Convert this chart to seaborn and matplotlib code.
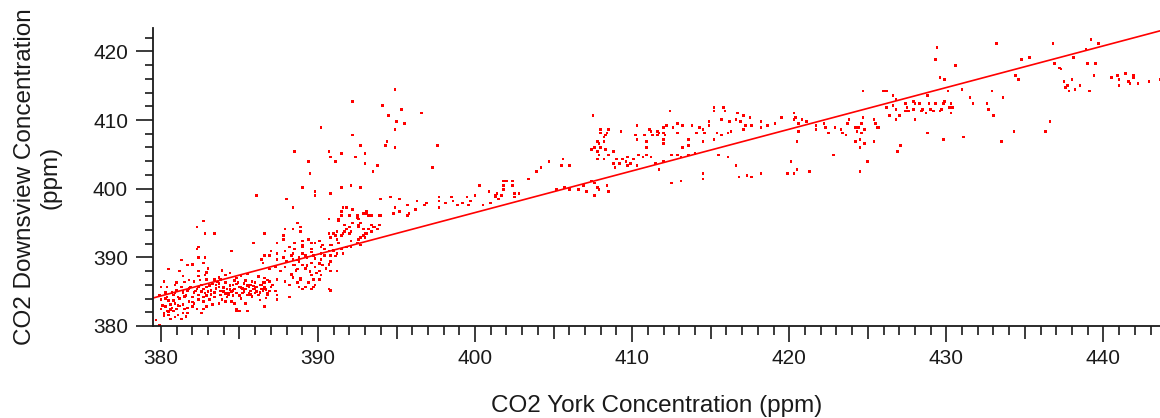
import numpy as np
import pandas as pd
import matplotlib
matplotlib.use("Agg")
import matplotlib.pyplot as plt
from matplotlib.ticker import MultipleLocator, FuncFormatter
import seaborn as sns

# Paired hourly CO2 readings (ppm), York station vs. Downsview station,
# grouped by York concentration range.
york_380s = [
    386.1, 382.4, 382.3, 382.4, 382.8, 382.7, 381.7, 384.5, 385.9, 386.9,
    386.4, 382.9, 382.4, 381.0, 381.5, 380.0, 380.3, 379.9, 380.4, 380.0,
    380.8, 381.0, 381.3, 381.4, 381.7, 381.9, 382.2, 382.4, 382.7, 382.9,
    382.8, 383.2, 383.3, 383.6, 383.7, 383.8, 384.1, 384.2, 384.3, 384.6,
    384.7, 384.8, 385.0, 385.4, 385.6, 385.9, 386.1, 386.4, 386.6, 386.9,
    386.5, 385.7, 385.2, 385.5, 386.0, 386.2, 386.8, 384.2, 383.8, 383.4,
    383.1, 382.7, 382.4, 382.0, 381.8, 381.4, 381.5, 382.0, 382.3, 382.7,
    382.9, 383.3, 383.7, 384.1, 384.5, 384.7, 384.8, 385.0, 385.5, 385.4,
    380.9, 380.6, 380.3, 380.0, 380.4, 380.8, 380.5, 380.9, 381.1, 381.3,
    380.6, 379.9, 381.4, 381.0, 385.7, 386.0, 386.3, 386.6, 386.8, 386.6,
    384.8, 385.1, 383.7, 383.4, 382.9, 382.5, 382.1, 381.8, 381.4, 380.9,
    380.4, 384.1, 382.8, 382.4, 386.6, 387.9, 387.8, 387.8, 387.4, 387.9,
    387.0, 386.6, 387.4, 387.4, 387.8, 386.5, 386.9, 387.3, 387.6, 387.9,
    387.9, 387.4, 387.1, 386.9, 386.5, 386.6, 387.0, 387.3, 386.8, 387.4,
    387.4, 386.6, 382.3, 382.7, 382.8, 383.4, 379.7, 384.8, 382.6, 383.0,
    383.5, 384.0, 384.4, 385.3, 385.8, 386.3, 386.7, 385.1, 384.6, 383.9,
    383.2, 382.6, 382.1, 381.6, 381.2, 380.7, 380.5, 381.1, 381.7, 380.2,
    381.6, 380.7, 386.2, 385.5, 384.4, 383.9, 383.0, 381.2, 382.0, 381.3,
    380.5, 380.2,
    380.1, 380.3, 380.6, 380.9, 381.2, 381.5, 381.8, 382.1, 382.4, 382.7,
    380.2, 380.5, 380.8, 381.1, 381.4, 381.7, 382.0, 382.3, 382.6, 382.9,
    383.1, 383.4, 383.7, 384.0, 384.3, 384.6, 384.9, 385.2, 385.5, 385.8,
    383.2, 383.5, 383.8, 384.1, 384.4, 384.7, 385.0, 385.3, 385.6, 385.9,
    386.1, 386.4, 386.7, 386.3, 386.0, 385.7, 385.4, 385.1, 384.8, 384.5,
]
downsview_380s = [
    399.0, 391.5, 391.2, 390.0, 390.0, 389.2, 388.9, 390.9, 392.1, 390.3,
    389.7, 387.8, 387.3, 386.3, 386.4, 385.7, 384.9, 384.5, 384.2, 383.9,
    384.5, 385.2, 385.7, 384.8, 385.2, 385.7, 385.1, 385.7, 385.4, 385.7,
    384.8, 385.2, 386.1, 386.4, 385.7, 386.8, 386.3, 385.4, 384.8, 386.0,
    385.4, 384.8, 385.7, 385.4, 385.7, 385.4, 385.7, 385.4, 385.7, 385.1,
    385.1, 385.1, 384.8, 384.5, 384.8, 384.5, 384.5, 384.2, 384.5, 384.2,
    383.9, 383.6, 384.5, 384.2, 383.6, 383.1, 382.5, 382.8, 382.5, 382.5,
    382.8, 383.1, 383.3, 383.6, 383.6, 383.3, 382.5, 382.2, 382.2, 383.3,
    383.3, 383.1, 382.8, 382.5, 382.2, 382.2, 381.6, 381.3, 381.6, 381.0,
    381.0, 380.1, 381.9, 382.5, 386.0, 386.3, 386.0, 386.3, 386.7, 387.0,
    387.0, 387.3, 387.1, 386.8, 386.8, 386.7, 386.5, 386.7, 387.3, 386.0,
    385.7, 387.4, 387.4, 388.0, 393.5, 394.1, 393.2, 392.6, 392.1, 390.9,
    390.9, 390.3, 390.6, 389.7, 390.0, 389.2, 388.3, 388.6, 388.0, 388.6,
    386.5, 386.8, 386.0, 386.5, 386.3, 385.4, 385.7, 385.1, 384.8, 384.5,
    383.9, 382.8, 394.4, 395.3, 393.5, 393.5, 380.9, 382.3, 381.9, 385.0,
    385.5, 385.0, 385.9, 386.2, 384.3, 384.9, 384.1, 384.0, 384.4, 383.9,
    384.6, 385.0, 384.9, 384.4, 384.0, 384.9, 383.7, 383.0, 382.6, 381.5,
    381.4, 382.6, 387.2, 387.6, 387.7, 388.1, 388.4, 388.0, 389.0, 389.6,
    388.3, 386.5,
    383.0, 384.0, 382.4, 384.8, 382.9, 384.3, 385.5, 383.3, 383.9, 384.2,
    381.8, 382.1, 383.7, 384.2, 385.0, 381.9, 383.5, 385.4, 386.0, 384.4,
    385.9, 384.9, 386.2, 385.6, 384.5, 385.2, 386.3, 385.5, 385.9, 386.5,
    384.6, 386.0, 385.1, 384.7, 385.3, 386.6, 384.4, 385.0, 384.8, 385.8,
    385.0, 386.0, 385.3, 383.8, 385.5, 384.6, 386.6, 385.6, 386.1, 385.0,
]

york_388_395 = [
    388.5, 389.4, 389.5, 389.0, 388.0, 388.4, 394.9, 392.2, 394.1, 394.5,
    390.2, 394.9, 392.2, 394.4, 394.3, 392.7, 394.9, 390.7, 391.5, 390.8,
    393.0, 392.4, 391.1, 393.0, 393.8, 393.5, 391.5, 392.1, 392.7, 389.8,
    389.8, 390.8, 394.0, 394.6, 394.9, 394.0, 394.8, 391.6, 391.8, 392.2,
    391.5, 392.0, 392.5, 392.9, 393.1, 393.2, 391.5, 390.7, 391.3, 391.7,
    391.8, 392.0, 392.9, 392.6, 393.5, 393.9, 393.4, 392.9, 392.7, 393.0,
    392.6, 392.5, 392.7, 392.1, 391.6, 391.2, 391.1, 390.7, 390.8, 391.2,
    391.3, 390.9, 390.3, 389.8, 389.4, 389.0, 388.7, 388.9, 388.9, 388.4,
    391.6, 390.8, 390.2, 390.3, 389.2, 388.8, 388.5, 392.1, 390.4, 389.6,
    393.4, 388.5, 389.6, 390.1, 389.0, 388.5, 388.2, 388.3, 388.0, 388.4,
    388.8, 389.0, 389.3, 389.7, 390.2, 390.7, 390.8, 391.2, 391.5, 391.8,
    393.0, 393.1, 393.2, 393.4, 393.6, 393.8, 393.9, 392.5, 392.6, 393.1,
    392.7, 392.6, 392.2, 392.0, 392.1, 391.7, 391.5, 391.0, 391.3, 388.4,
    388.7, 389.0, 389.6, 389.8, 390.1, 389.6, 389.7, 389.4, 389.8, 389.6,
    390.1, 390.2, 390.8, 391.2, 390.7, 388.9, 388.7, 388.4, 388.2, 388.2,
    388.8, 389.2, 389.0, 390.8, 389.7,
    388.3, 388.6, 388.9, 389.2, 389.5, 389.8, 390.1, 390.4, 390.7, 391.0,
    388.4, 388.7, 389.0, 389.3, 389.6, 389.9, 390.2, 390.5, 390.8, 391.1,
]
downsview_388_395 = [
    405.4, 404.0, 402.2, 400.2, 398.5, 397.3, 414.4, 412.7, 412.1, 410.7,
    408.9, 408.6, 407.8, 406.9, 406.3, 406.3, 406.0, 405.4, 405.1, 404.6,
    405.1, 404.6, 404.0, 403.7, 403.4, 402.5, 400.2, 400.5, 400.2, 399.6,
    399.0, 399.3, 398.5, 398.8, 397.3, 396.1, 396.4, 397.3, 397.3, 397.0,
    396.7, 396.1, 395.8, 396.4, 396.7, 396.1, 396.1, 395.6, 395.3, 394.7,
    394.1, 393.5, 394.1, 394.7, 394.4, 394.7, 393.8, 393.2, 392.9, 393.5,
    392.6, 392.1, 391.8, 392.4, 393.5, 393.8, 393.2, 393.5, 392.9, 392.6,
    392.1, 391.8, 391.8, 392.1, 392.6, 392.4, 395.0, 394.4, 393.8, 394.1,
    390.6, 389.4, 389.7, 388.9, 390.3, 389.4, 388.9, 391.5, 391.2, 391.2,
    396.1, 392.1, 392.1, 392.4, 391.8, 391.2, 391.5, 390.3, 389.4, 389.7,
    390.0, 390.6, 390.0, 390.3, 390.6, 390.9, 390.3, 390.6, 391.2, 391.5,
    392.9, 393.5, 394.1, 394.7, 394.4, 394.1, 396.1, 396.1, 395.6, 396.4,
    395.0, 394.4, 395.0, 394.4, 393.8, 393.8, 393.2, 393.5, 395.6, 388.9,
    388.3, 388.9, 389.2, 388.6, 388.0, 387.4, 386.8, 386.3, 386.0, 385.4,
    386.8, 387.4, 388.0, 388.0, 385.4, 386.8, 386.3, 387.1, 386.0, 384.2,
    385.7, 385.7, 385.4, 385.2, 385.7,
    387.5, 388.1, 387.0, 388.4, 387.9, 389.8, 389.1, 390.3, 389.0, 391.0,
    390.6, 389.6, 391.5, 388.8, 390.8, 387.7, 391.5, 388.4, 391.8, 390.2,
]

york_395_410 = [
    395.3, 396.6, 395.0, 395.5, 397.6, 397.3, 400.3, 396.3, 397.7, 397.7,
    398.1, 398.5, 398.6, 398.9, 399.2, 399.5, 399.7, 400.0, 400.5, 400.9,
    395.7, 396.2, 396.8, 395.2, 395.2, 395.7, 401.4, 401.3, 401.5, 401.0,
    396.9, 397.7, 399.6, 395.8, 404.7, 405.6, 405.5, 406.0, 404.2, 403.9,
    403.4, 401.8, 402.0, 402.4, 401.8, 402.4, 401.8, 401.3, 401.7, 402.5,
    402.8, 402.5, 405.7, 406.0, 406.6, 406.9, 407.1, 407.6, 407.8, 407.9,
    408.4, 408.5, 407.6, 407.4, 405.2, 407.5, 408.0, 408.0, 408.3, 408.5,
    408.4, 408.2, 408.2, 407.8, 407.9, 407.6, 408.0, 408.3, 407.8, 407.4,
    408.8, 408.5, 408.2, 407.8, 407.9, 409.0, 408.8, 409.2, 409.4, 409.6,
    409.7, 409.7, 408.9, 409.3, 409.9,
]
downsview_395_410 = [
    411.5, 411.0, 409.8, 409.5, 406.3, 403.1, 400.5, 398.2, 398.8, 398.2,
    397.9, 398.8, 398.2, 397.6, 397.9, 398.8, 398.2, 399.0, 397.6, 399.6,
    397.6, 397.0, 397.6, 398.5, 396.7, 396.1, 399.3, 398.8, 398.5, 397.9,
    397.9, 397.3, 397.6, 396.4, 404.0, 404.3, 403.4, 403.4, 403.1, 402.5,
    401.4, 401.1, 401.1, 401.1, 400.5, 400.5, 399.9, 399.0, 399.0, 399.3,
    399.3, 398.8, 400.2, 399.9, 399.9, 400.5, 399.6, 400.8, 400.2, 399.9,
    400.5, 399.6, 399.0, 401.1, 399.9, 410.7, 408.6, 408.1, 407.8, 408.6,
    408.1, 407.5, 406.9, 406.9, 406.6, 406.0, 406.0, 405.7, 405.4, 405.7,
    405.4, 404.9, 404.3, 404.3, 404.9, 404.3, 403.7, 403.7, 404.3, 404.0,
    404.6, 403.4, 403.1, 408.3, 403.7,
]

york_410_420 = [
    412.4, 415.2, 415.2, 415.8, 415.9, 416.7, 417.1, 417.5, 415.7, 416.2,
    416.6, 416.9, 417.2, 417.6, 418.2, 418.6, 419.1, 414.9, 414.9, 414.3,
    414.5, 413.8, 413.2, 412.9, 412.2, 412.0, 410.3, 411.1, 411.2, 411.6,
    411.7, 412.0, 411.6, 412.6, 412.9, 414.1, 414.6, 415.4, 415.7, 416.1,
    416.3, 417.1, 415.2, 414.5, 413.6, 413.6, 413.2, 412.0, 412.0, 412.1,
    411.3, 410.8, 410.9, 410.9, 410.2, 410.3, 410.1, 410.4, 410.7, 410.9,
    411.2, 411.5, 412.0, 412.5, 412.9, 413.1, 413.6, 414.0, 410.3, 411.7,
    415.5, 416.1, 416.6, 414.5, 414.5, 413.1, 412.5, 416.8, 417.3, 417.6,
    418.2, 419.5, 418.2, 419.9,
]
downsview_410_420 = [
    411.3, 411.8, 411.3, 411.8, 411.3, 411.0, 410.7, 410.4, 410.1, 409.8,
    410.1, 409.8, 409.2, 409.2, 409.8, 409.2, 409.5, 409.8, 409.2, 408.9,
    408.6, 409.2, 409.2, 409.5, 409.2, 408.9, 409.2, 408.6, 408.3, 408.3,
    408.1, 408.1, 407.8, 408.9, 408.1, 408.1, 408.1, 408.1, 407.8, 408.1,
    408.3, 408.6, 407.2, 406.9, 407.2, 406.3, 406.0, 407.2, 406.6, 407.8,
    407.8, 407.8, 406.9, 406.0, 407.8, 407.2, 404.3, 404.9, 404.6, 404.9,
    404.6, 403.7, 404.0, 404.9, 404.9, 404.6, 404.9, 405.1, 403.4, 402.8,
    404.9, 404.6, 403.4, 402.2, 401.4, 401.1, 400.8, 401.7, 401.9, 401.7,
    402.2, 410.4, 408.9, 402.2,
]

york_420s_430s = [
    429.4, 429.3, 433.2, 436.8, 439.2, 439.7, 438.9, 430.6, 434.8, 435.3,
    436.9, 437.2, 437.3, 438.1, 439.0, 439.5, 439.4, 434.4, 434.6, 437.5,
    438.0, 437.7, 438.5, 437.6, 437.8, 438.2, 439.1, 440.5, 440.9, 441.0,
    441.0, 441.4, 441.9, 441.9, 441.7, 441.6, 442.2, 442.9, 443.6, 429.6,
    429.9, 430.1, 431.0, 431.5, 431.7, 432.9, 432.6, 432.7, 433.0, 433.6,
    433.5, 431.1, 434.3, 436.3, 436.6, 429.8, 428.8, 424.7, 426.0, 426.2,
    426.6, 426.8, 426.2, 426.6, 426.8, 426.4, 426.8, 427.0, 427.4, 427.5,
    427.6, 427.9, 428.0, 428.3, 428.5, 428.7, 428.9, 429.0, 429.2, 429.8,
    429.9, 430.2, 430.3, 428.8, 428.0, 427.4, 427.9, 428.4, 429.3, 429.6,
    429.7, 430.3, 430.4, 420.3, 420.4, 420.3, 420.8, 420.6, 421.1, 421.7,
    421.7, 422.2, 422.3, 422.5, 420.6, 420.5, 422.9, 423.3, 423.4, 423.7,
    423.8, 423.6, 424.2, 424.3, 424.4, 424.6, 424.7, 424.8, 424.6, 424.5,
    424.2, 424.8, 424.5, 425.4, 425.5, 425.6, 425.7, 425.4, 422.8, 420.1,
    420.5, 420.3, 421.3, 424.5, 425.0, 426.9, 427.1,
]
downsview_420s_430s = [
    420.6, 418.8, 421.1, 421.1, 421.7, 421.1, 420.3, 417.9, 418.8, 419.1,
    418.2, 417.6, 417.4, 419.1, 418.2, 418.2, 416.5, 416.5, 415.9, 415.6,
    415.9, 415.0, 415.0, 414.7, 414.2, 414.4, 414.2, 416.2, 416.5, 415.9,
    415.0, 416.8, 416.5, 416.2, 415.3, 415.6, 415.3, 415.6, 415.9, 416.2,
    415.9, 414.2, 414.4, 413.3, 412.4, 414.2, 412.4, 411.5, 410.7, 413.3,
    406.9, 407.5, 408.3, 408.3, 409.8, 407.2, 408.1, 414.2, 414.2, 414.2,
    413.6, 413.0, 411.8, 412.1, 411.5, 410.7, 410.1, 410.7, 412.4, 411.8,
    411.3, 412.7, 412.4, 412.4, 411.5, 411.0, 412.4, 411.5, 411.3, 412.4,
    412.7, 411.8, 411.0, 413.6, 410.1, 411.3, 411.5, 411.3, 412.4, 411.3,
    411.5, 412.4, 411.8, 411.0, 410.4, 410.1, 410.1, 409.5, 409.8, 409.2,
    408.6, 409.5, 408.9, 408.1, 408.3, 406.9, 408.9, 408.6, 408.1, 409.5,
    410.1, 407.8, 408.9, 408.3, 408.9, 409.5, 410.4, 408.6, 408.1, 407.2,
    406.9, 406.6, 406.0, 410.1, 409.5, 408.9, 408.9, 406.9, 404.9, 404.0,
    402.8, 402.2, 402.5, 402.5, 404.0, 405.4, 406.3,
]

# Linear least-squares fit: Downsview = intercept + slope * York
fit_slope = 0.607
fit_intercept = 153.72

x_range = (379.5, 443.6)
y_range = (380.0, 423.4)

df = pd.DataFrame({
    "york": np.concatenate([york_380s, york_388_395, york_395_410,
                            york_410_420, york_420s_430s]),
    "downsview": np.concatenate([downsview_380s, downsview_388_395,
                                 downsview_395_410, downsview_410_420,
                                 downsview_420s_430s]),
})
fit_x = np.array(x_range)
fit_df = pd.DataFrame({"york": fit_x, "downsview": fit_intercept + fit_slope * fit_x})

sns.set_theme(style="ticks")
plt.rcParams["font.family"] = ["Liberation Sans", "DejaVu Sans"]
ink = "#1a1a1a"

fig = plt.figure(figsize=(11.6, 4.18), dpi=100)
ax = fig.add_axes([153 / 1160, (418 - 326) / 418, (1160 - 153) / 1160, (326 - 28) / 418])

sns.scatterplot(data=df, x="york", y="downsview", ax=ax, marker="s", s=3.5,
                color="#ff0000", linewidth=0, edgecolor="none")
sns.lineplot(data=fit_df, x="york", y="downsview", ax=ax, color="#ff0000",
             linewidth=1.2)

ax.set_xlim(*x_range)
ax.set_ylim(*y_range)

for side in ("top", "right"):
    ax.spines[side].set_visible(False)
for side in ("left", "bottom"):
    ax.spines[side].set_color(ink)
    ax.spines[side].set_linewidth(1.3)

ax.xaxis.set_major_locator(MultipleLocator(5))
ax.xaxis.set_minor_locator(MultipleLocator(1))
ax.xaxis.set_major_formatter(
    FuncFormatter(lambda v, p: f"{v:.0f}" if round(v) % 10 == 0 else ""))
ax.yaxis.set_major_locator(MultipleLocator(10))
ax.yaxis.set_minor_locator(MultipleLocator(2))

ax.tick_params(axis="x", which="major", direction="out", length=11.5, width=1.2,
               color=ink, pad=5, labelsize=15, labelcolor=ink)
ax.tick_params(axis="x", which="minor", direction="out", length=6.5, width=1.2,
               color=ink)
ax.tick_params(axis="y", which="major", direction="out", length=12, width=1.2,
               color=ink, pad=6, labelsize=15, labelcolor=ink)
ax.tick_params(axis="y", which="minor", direction="out", length=5.8, width=1.2,
               color=ink)

# Half-decade ticks on the x axis are drawn a bit shorter than the labelled ones
for loc, tick in zip(ax.xaxis.get_majorticklocs(), ax.xaxis.get_major_ticks()):
    if round(loc) % 10 == 5:
        tick.tick1line.set_markersize(9.4)

ax.set_xlabel("CO2 York Concentration (ppm)", fontsize=17.5, color=ink)
ax.set_ylabel("CO2 Downsview Concentration\n(ppm)", fontsize=17.5, color=ink,
              linespacing=1.2)
ax.xaxis.set_label_coords(0.5, -0.23)
ax.yaxis.set_label_coords(-0.091, 0.5)

fig.savefig("out.png", dpi=100, facecolor="white")
